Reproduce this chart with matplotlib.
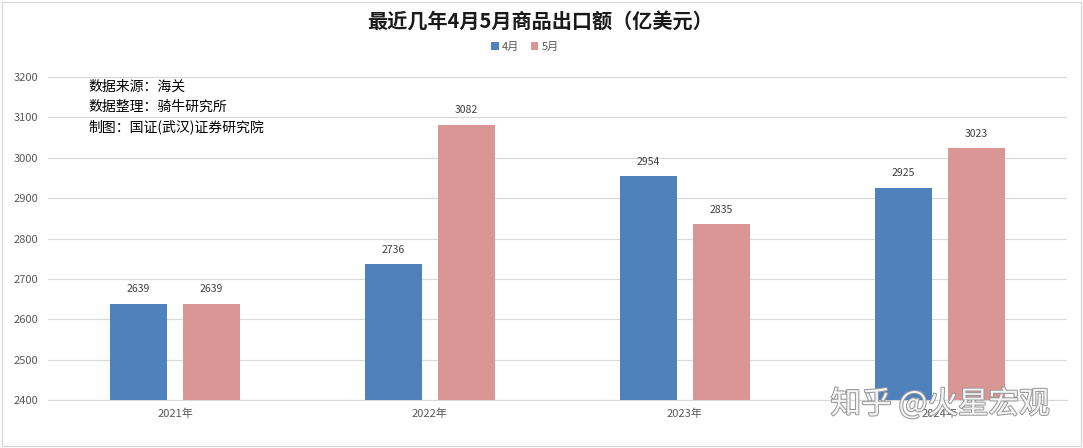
import matplotlib
matplotlib.use("Agg")
import matplotlib.pyplot as plt
import matplotlib.patheffects as pe
from matplotlib.patches import Rectangle
import numpy as np

plt.rcParams['font.family'] = ['Noto Sans CJK SC', 'DejaVu Sans']

categories = ['2021年', '2022年', '2023年', '2024年']
april = [2639, 2736, 2954, 2925]
may = [2639, 3082, 2835, 3023]
series_names = ['4月', '5月']
colors = ['#4F81BD', '#D99694']
yticks = [2400, 2500, 2600, 2700, 2800, 2900, 3000, 3100, 3200]
notes = ['数据来源：海关', '数据整理：骑牛研究所', '制图：国证(武汉)证券研究院']

fig = plt.figure(figsize=(10.83, 4.48), dpi=100)
W, H = 1083, 448
ax = fig.add_axes([47.6 / W, 1 - 400 / H, (1067 - 47.6) / W, (400 - 77) / H])

x = np.arange(len(categories))
bw = 0.224
off = 0.1433
b1 = ax.bar(x - off, april, bw, color=colors[0], label=series_names[0], zorder=3)
b2 = ax.bar(x + off, may, bw, color=colors[1], label=series_names[1], zorder=3)

for bars, vals in ((b1, april), (b2, may)):
    for rect, v in zip(bars, vals):
        ax.annotate(str(v), (rect.get_x() + rect.get_width() / 2, v),
                    xytext=(0, 7), textcoords='offset points',
                    ha='center', va='bottom', fontsize=7.5, color='#404040')

ax.set_xlim(-0.5, len(categories) - 0.5)
ax.set_ylim(2400, 3200)
ax.set_yticks(yticks)
ax.set_xticks(x)
ax.set_xticklabels(categories)
ax.tick_params(axis='both', length=0, labelsize=8, colors='#595959')
ax.tick_params(axis='y', pad=7)
ax.tick_params(axis='x', pad=6)
ax.grid(axis='y', color='#D9D9D9', linewidth=0.9, zorder=0)
for s in ['top', 'right', 'left']:
    ax.spines[s].set_visible(False)
ax.spines['bottom'].set_color('#D9D9D9')

fig.text(540 / W, 1 - 22 / H, '最近几年4月5月商品出口额（亿美元）', ha='center', va='center',
         fontsize=14.5, fontweight='bold', color='#1a1a1a')

fig.legend(handles=[b1, b2], labels=series_names, loc='center',
           bbox_to_anchor=(525 / W, 1 - 47 / H), ncol=2, frameon=False,
           fontsize=8, handlelength=0.7, handleheight=0.7, handletextpad=0.3,
           columnspacing=1.0, labelcolor='#595959')

for i, line in enumerate(notes):
    fig.text(88 / W, 1 - (87 + i * 20) / H, line, ha='left', va='center',
             fontsize=10, color='#000000')

fig.text(940 / W, 1 - 404 / H, '知乎 @火星宏观', ha='center', va='center', fontsize=22,
         color='#f4f4f4', zorder=10,
         path_effects=[pe.withStroke(linewidth=1.5, foreground='#9a9a9a')])

fig.patches.append(Rectangle((2 / W, 2 / H), (W - 4) / W, (H - 4) / H, transform=fig.transFigure,
                             fill=False, edgecolor='#D9D9D9', linewidth=1))

fig.savefig('out.png', dpi=100)
